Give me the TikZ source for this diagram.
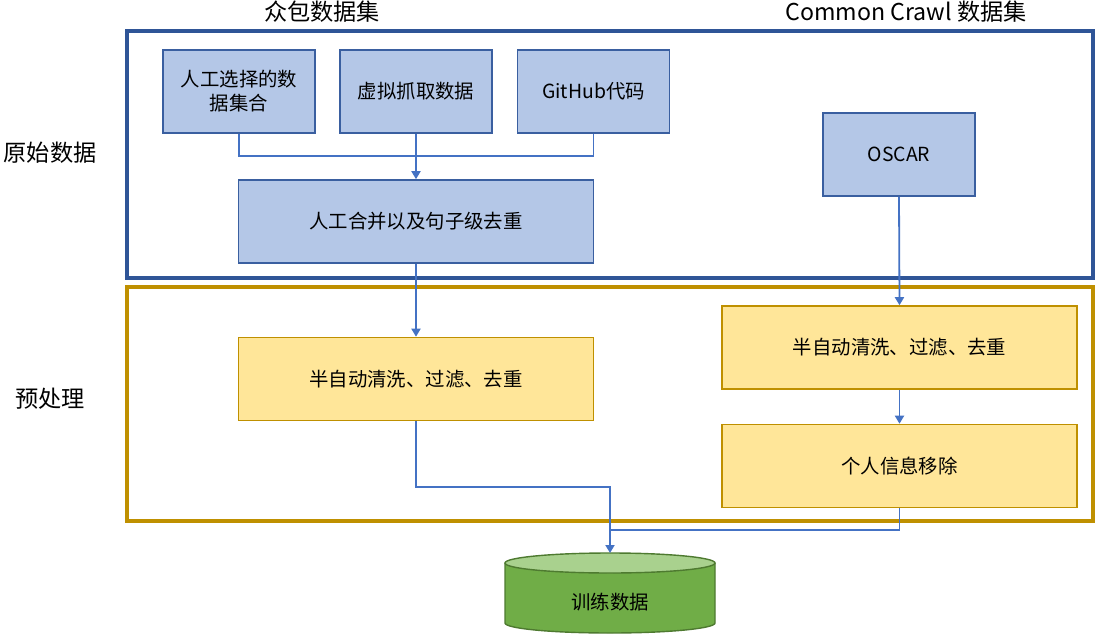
\documentclass[tikz,border=0pt]{standalone}
\usepackage{fontspec}
\setmainfont{Noto Sans CJK SC}
\usetikzlibrary{arrows.meta}
\definecolor{outerblue}{HTML}{2F5597}
\definecolor{boxblue}{HTML}{B4C7E7}
\definecolor{boxblueline}{HTML}{3A5FA0}
\definecolor{connblue}{HTML}{4472C4}
\definecolor{gold}{HTML}{BF9000}
\definecolor{boxyellow}{HTML}{FFE699}
\definecolor{cylside}{HTML}{70AD47}
\definecolor{cyltopc}{HTML}{A9D18E}
\definecolor{cylline}{HTML}{4E7A30}
\tikzset{
  bluebox/.style={rectangle, draw=boxblueline, fill=boxblue, line width=1.6pt, minimum height=83pt, inner sep=0pt, align=center, font=\fontsize{19.4}{24}\selectfont},
  yellowbox/.style={rectangle, draw=gold, fill=boxyellow, line width=1.6pt, minimum width=355pt, minimum height=83pt, inner sep=0pt, align=center, font=\fontsize{19.4}{24}\selectfont},
  conn/.style={draw=connblue, line width=1.8pt},
  arr/.style={conn, -{Triangle[length=8pt,width=9pt]}},
  sidelabel/.style={font=\fontsize{23.2}{26}\selectfont, inner sep=0pt},
}
\begin{document}
\begin{tikzpicture}[x=1pt,y=-1pt]
\fill[white] (0,0) rectangle (1097,634);
\useasboundingbox (0,0) rectangle (1097,634);
% outer frames
\draw[outerblue, line width=3.5pt] (127,31) rectangle (1093,278);
\draw[gold, line width=3.5pt] (127,287) rectangle (1093,521);
% labels
\node[sidelabel] (lcrowd) at (322,12) {众包数据集};
\node[sidelabel] (lcc) at (906,12) {Common Crawl 数据集};
\node[sidelabel] (lraw) at (50,153) {原始数据};
\node[sidelabel] (lpre) at (50,399) {预处理};
% blue boxes
\node[bluebox, minimum width=152pt] (b1) at (239,91.5) {人工选择的数\\据集合};
\node[bluebox, minimum width=152pt] (b2) at (416,91.5) {虚拟抓取数据};
\node[bluebox, minimum width=152pt] (b3) at (593.5,91.5) {GitHub代码};
\node[bluebox, minimum width=355pt] (merge) at (416,221.5) {人工合并以及句子级去重};
\node[bluebox, minimum width=152pt] (oscar) at (899,154.5) {OSCAR};
% yellow boxes
\node[yellowbox] (y1) at (416,379) {半自动清洗、过滤、去重};
\node[yellowbox] (y2) at (899.5,347.5) {半自动清洗、过滤、去重};
\node[yellowbox] (y3) at (899.5,466) {个人信息移除};
% cylinder
\fill[cylside] (505,563) -- (505,623) arc[start angle=180, end angle=0, x radius=105, y radius=10] -- (715,563) -- cycle;
\draw[cylline, line width=1.4pt] (505,563) -- (505,623) arc[start angle=180, end angle=0, x radius=105, y radius=10] -- (715,563);
\filldraw[fill=cyltopc, draw=cylline, line width=1.4pt] (610,563) ellipse [x radius=105, y radius=10];
\node[font=\fontsize{19.4}{24}\selectfont] (train) at (610,602) {训练数据};
\coordinate (cyltop) at (610,553);
% connectors
\coordinate (j) at (416,156);
\draw[conn] (b1.south) |- (j) -| (b3.south);
\draw[arr] (b2.south) -- (merge.north);
\draw[arr] (merge.south) -- (y1.north);
\draw[arr] (oscar.south) -- (y2.north);
\draw[arr] (y2.south) -- (y3.north);
\coordinate (k1) at (416,487);
\coordinate (k2) at (610,530);
\draw[arr] (y1.south) -- (k1) -| (cyltop);
\draw[conn] (y3.south) |- (k2);
\end{tikzpicture}
\end{document}
